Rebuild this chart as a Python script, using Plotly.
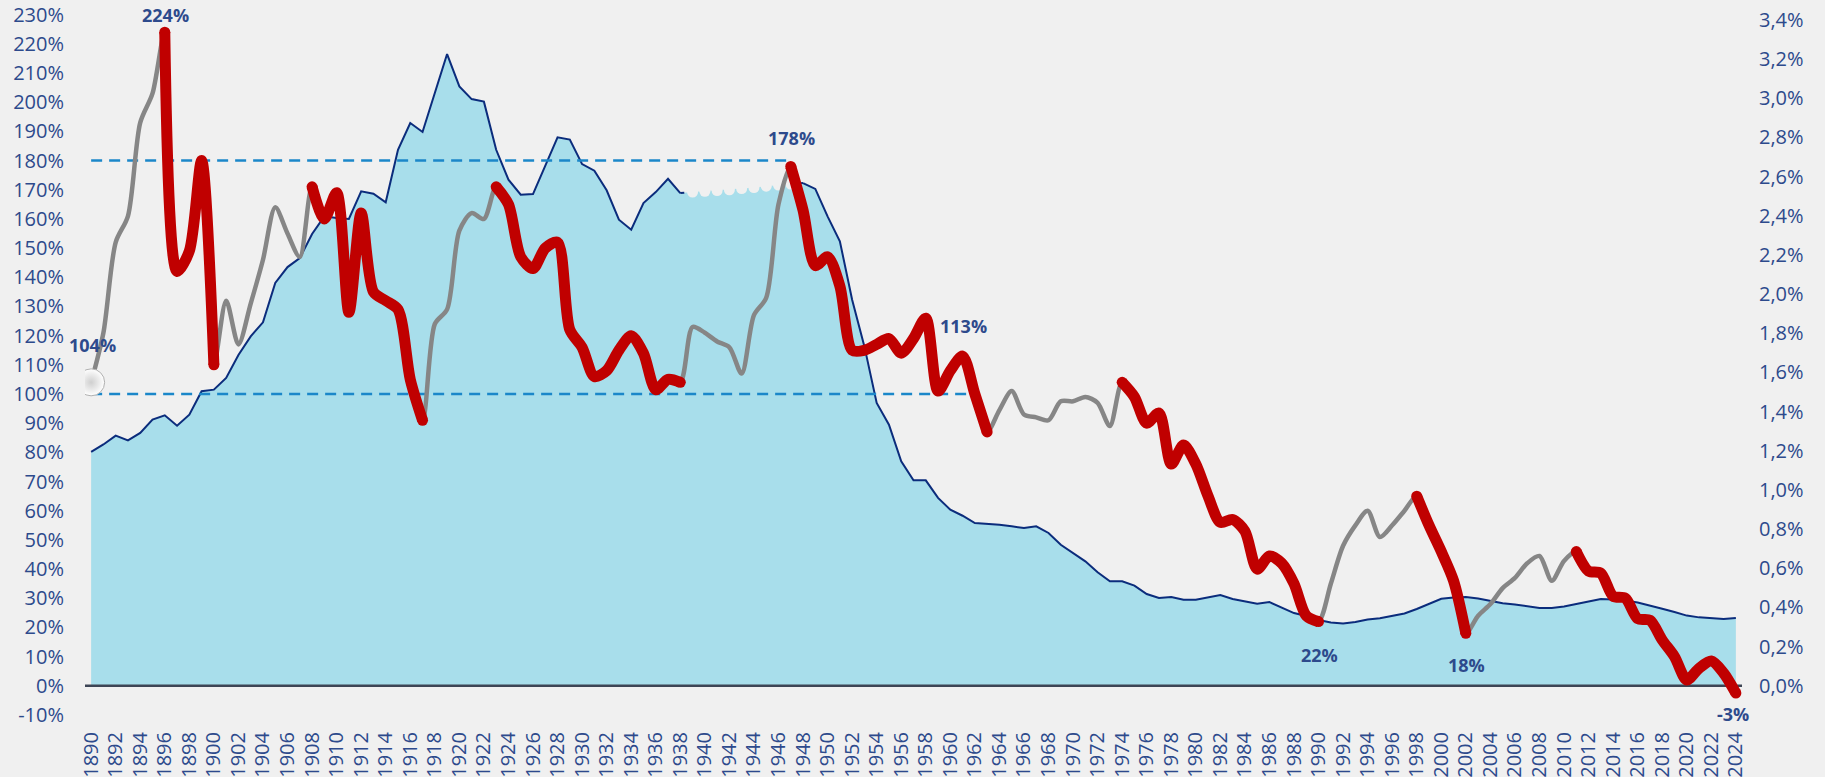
import plotly.graph_objects as go

years = list(range(1890, 2025))

# Red/grey series (left axis, %)
main_vals = [
    104, 121, 152, 161, 193, 203, 224, 142, 149, 180,   # 1890-1899
    110, 132, 117, 131, 146, 164, 155, 147, 171, 160,   # 1900-1909
    169, 128, 162, 135, 132, 129, 105, 91, 124, 129,    # 1910-1919
    156, 162, 160, 171, 165, 147, 143, 150, 152, 122,   # 1920-1929
    116, 106, 108, 115, 120, 114, 101.5, 105, 104, 123, # 1930-1939
    121, 118, 116, 107, 127, 133, 165, 178, 163, 144,   # 1940-1949
    147, 137, 115, 115, 117, 119, 114, 119, 126, 101,   # 1950-1959
    108, 113, 100, 87, 94.5, 101, 93, 92, 91, 97.5,     # 1960-1969
    97.5, 99, 97, 89, 104, 99, 90, 93.5, 76, 82.5,      # 1970-1979
    76, 65, 56, 57, 53, 40, 44.5, 42, 35, 24,           # 1980-1989
    22, 35, 48, 55, 60, 51, 55, 60, 65, 55,             # 1990-1999
    46, 36, 18, 24, 28, 33.5, 37, 42, 44.5, 36,         # 2000-2009
    42.8, 46, 39.3, 38.6, 30.7, 30, 23, 22.5, 15.7, 10, # 2010-2019
    2, 6, 8.5, 4.4, -2.5                                # 2020-2024
]

# Area series (right axis, %)
area_vals = [
    1.194, 1.232, 1.277, 1.253, 1.291, 1.359, 1.381, 1.328, 1.384, 1.504,  # 1890-1899
    1.512, 1.572, 1.689, 1.784, 1.856, 2.057, 2.138, 2.184, 2.307, 2.397,  # 1900-1909
    2.389, 2.384, 2.525, 2.513, 2.469, 2.737, 2.874, 2.828, 3.027, 3.226,  # 1910-1919
    3.061, 2.996, 2.983, 2.737, 2.584, 2.508, 2.511, 2.654, 2.801, 2.789,  # 1920-1929
    2.664, 2.630, 2.530, 2.380, 2.329, 2.465, 2.521, 2.589, 2.516, 2.521,  # 1930-1939
    2.525, 2.529, 2.533, 2.539, 2.544, 2.551, 2.557, 2.562, 2.567, 2.537,  # 1940-1949
    2.397, 2.270, 1.971, 1.733, 1.444, 1.333, 1.146, 1.049, 1.049, 0.959,  # 1950-1959
    0.899, 0.868, 0.831, 0.827, 0.822, 0.814, 0.805, 0.814, 0.780, 0.720,  # 1960-1969
    0.678, 0.635, 0.579, 0.533, 0.533, 0.511, 0.468, 0.448, 0.453, 0.439,  # 1970-1979
    0.439, 0.451, 0.463, 0.443, 0.431, 0.419, 0.427, 0.400, 0.371, 0.356,  # 1980-1989
    0.336, 0.323, 0.318, 0.325, 0.338, 0.344, 0.356, 0.369, 0.392, 0.420,  # 1990-1999
    0.444, 0.451, 0.453, 0.445, 0.433, 0.421, 0.415, 0.407, 0.397, 0.397,  # 2000-2009
    0.404, 0.417, 0.430, 0.443, 0.440, 0.435, 0.425, 0.410, 0.393, 0.376,  # 2010-2019
    0.358, 0.349, 0.344, 0.341, 0.346                                     # 2020-2024
]

# Periods drawn in red
red_periods = [(1896, 1900), (1908, 1917), (1923, 1938), (1947, 1963),
               (1974, 1990), (1998, 2002), (2011, 2024)]
# Period where the area outline is dotted
dotted_period = (1938, 1948)

# Reference dashed levels (left axis) and their end years
ref_levels = [180, 100]
ref_end_years = [1947, 1962]

# Labelled points
label_years = [1890, 1896, 1947, 1961, 1990, 2002, 2024]
label_texts = ["104%", "224%", "178%", "113%", "22%", "18%", "-3%"]
label_shift = [37, 17, 28, 30, -33, -32, -21]

left_ticks = list(range(-10, 231, 10))
right_ticks = [round(0.2 * i, 1) for i in range(0, 18)]

BG = "#F0F0F0"
TXT = "#2D4A8C"
FONT = "Open Sans"
x_range = [years[0] - 0.5, years[-1] + 0.5]

fig = go.Figure()

# --- primary y axis (drawn first, shown on the right): area series ---
fig.add_trace(go.Scatter(
    x=years, y=area_vals, yaxis="y", mode="lines",
    fill="tozeroy", fillcolor="#A8DEEB", line=dict(width=0, color="#A8DEEB"),
    hoverinfo="skip"))

solid = [v if not (dotted_period[0] < yr < dotted_period[1]) else None
         for yr, v in zip(years, area_vals)]
fig.add_trace(go.Scatter(
    x=years, y=solid, yaxis="y", mode="lines",
    line=dict(width=2, color="#0B2C7C"), connectgaps=False))

dot_x = [yr for yr in years if dotted_period[0] <= yr <= dotted_period[1]]
dot_y = [v for yr, v in zip(years, area_vals) if dotted_period[0] <= yr <= dotted_period[1]]
fig.add_trace(go.Scatter(
    x=dot_x, y=dot_y, yaxis="y", mode="lines",
    line=dict(width=2, color="#0B2C7C", dash="4px,8px")))
fig.add_trace(go.Scatter(
    x=dot_x[1:-1], y=dot_y[1:-1], yaxis="y", mode="markers",
    marker=dict(size=11, color=BG, line=dict(width=0))))

# --- overlaying y2 axis (shown on the left): main series ---
# baseline at 0 %
fig.add_trace(go.Scatter(
    x=x_range, y=[0, 0], yaxis="y2", mode="lines",
    line=dict(width=2.5, color="#3D4555"), hoverinfo="skip"))

for lvl, end in zip(ref_levels, ref_end_years):
    xs = [yr for yr in years if yr <= end]
    fig.add_trace(go.Scatter(
        x=xs, y=[lvl] * len(xs), yaxis="y2", mode="lines",
        line=dict(width=2.5, color="#1B87C9", dash="11px,7px")))

fig.add_trace(go.Scatter(
    x=years, y=main_vals, yaxis="y2", mode="lines",
    line=dict(width=4.5, color="#868686", shape="spline", smoothing=0.8)))

red_y = [v if any(a <= yr <= b for a, b in red_periods) else None
         for yr, v in zip(years, main_vals)]
fig.add_trace(go.Scatter(
    x=years, y=red_y, yaxis="y2", mode="lines", connectgaps=False,
    line=dict(width=11, color="#C00000", shape="spline", smoothing=0.8)))
cap_years = [yr for p in red_periods for yr in p]
cap_vals = [main_vals[years.index(yr)] for yr in cap_years]
fig.add_trace(go.Scatter(
    x=cap_years, y=cap_vals, yaxis="y2", mode="markers",
    marker=dict(size=11, color="#C00000", line=dict(width=0))))

fig.add_trace(go.Scatter(
    x=[years[0]], y=[main_vals[0]], yaxis="y2", mode="markers",
    marker=dict(size=27, color="#FFFFFF",
                gradient=dict(type="radial", color="#CFCFCF"),
                line=dict(width=1, color="#B0B0B0"))))

for yr, txt, sh in zip(label_years, label_texts, label_shift):
    fig.add_annotation(
        x=yr, y=main_vals[years.index(yr)], yref="y2", text=f"<b>{txt}</b>",
        showarrow=False, yshift=sh, xshift=(-3 if yr == 2024 else 1),
        font=dict(family=FONT, size=18, color=TXT))

fig.update_layout(
    width=1825, height=777,
    margin=dict(l=85, r=83, t=3, b=62, pad=0),
    paper_bgcolor=BG, plot_bgcolor=BG,
    showlegend=False,
    font=dict(family=FONT, color=TXT),
    xaxis=dict(
        range=x_range, tickvals=years[::2], ticktext=[str(y) for y in years[::2]],
        tickangle=-90, tickfont=dict(size=20, color=TXT, family=FONT),
        showgrid=False, zeroline=False, showline=False, ticks="",
        automargin=False, ticklabelstandoff=12),
    yaxis=dict(
        side="right", range=[-0.1496, 3.4867],
        tickvals=right_ticks, ticktext=[f"{v:.1f}%".replace(".", ",") for v in right_ticks],
        tickfont=dict(size=20, color=TXT, family=FONT),
        showgrid=False, zeroline=False,
        showline=False, ticks="", automargin=False, ticklabelstandoff=16,
        ticklabeloverflow="allow"),
    yaxis2=dict(
        overlaying="y", side="left",
        range=[-10, 234], tickvals=left_ticks, ticktext=[f"{v}%" for v in left_ticks],
        tickfont=dict(size=20, color=TXT, family=FONT),
        showgrid=False, zeroline=False, showline=False, ticks="",
        automargin=False, ticklabelstandoff=20, ticklabeloverflow="allow"),
)

fig.write_html("out.html", config={"displayModeBar": False},
               post_script="document.body.style.margin='0';document.body.style.overflow='hidden';")
